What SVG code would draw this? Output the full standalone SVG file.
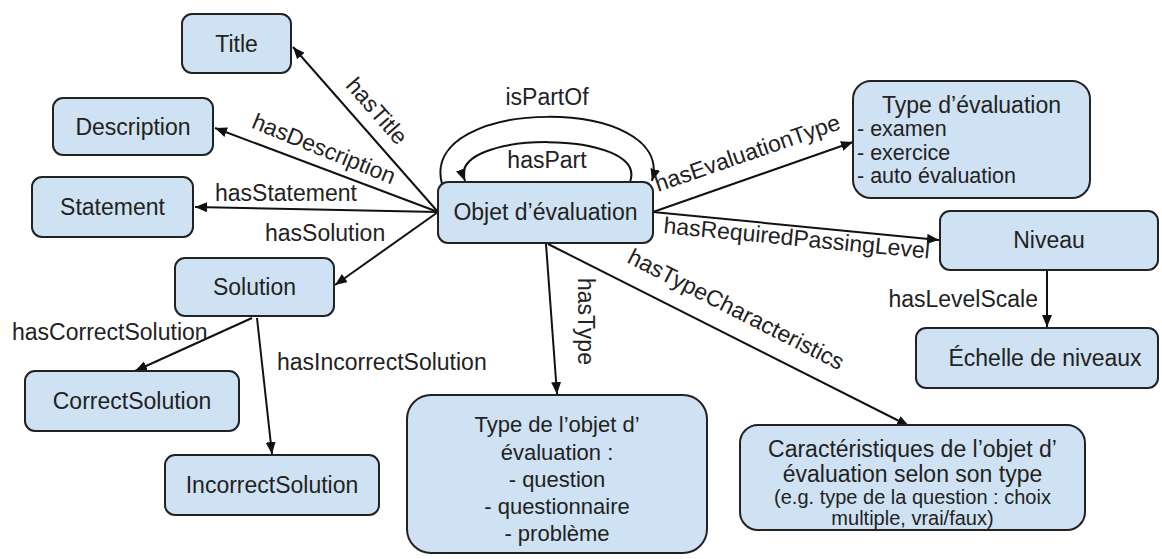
<svg xmlns="http://www.w3.org/2000/svg" width="1162" height="559" viewBox="0 0 1162 559">
<defs>
<marker id="arr" viewBox="0 0 12 10" refX="12" refY="5" markerWidth="12" markerHeight="10" markerUnits="userSpaceOnUse" orient="auto">
<path d="M0,0 L12,5 L0,10 z" fill="#111"/>
</marker>
<style>
.box{fill:#cfe2f3;stroke:#222;stroke-width:2}
text{font-family:"Liberation Sans",Arial,sans-serif;fill:#222}
.t{font-size:23px;text-anchor:middle}
.l{font-size:23px}
.s{font-size:21.5px}
.m{font-size:22px;text-anchor:middle}
.n{font-size:20px;text-anchor:middle}
.e{stroke:#111;stroke-width:2;fill:none;marker-end:url(#arr)}
</style>
</defs>
<rect width="1162" height="559" fill="#fff"/>
<g id="connectors">
<path class="e" d="M438,212 L293,47"/>
<path class="e" d="M438,212 L215,128"/>
<path class="e" d="M438,212 L195,207"/>
<path class="e" d="M438,212 L335,285"/>
<path class="e" d="M252,318 L135,371"/>
<path class="e" d="M257,318 L272,454"/>
<path class="e" d="M546,244 L557,394"/>
<path class="e" d="M548,244 L909,426"/>
<path class="e" d="M653,212 L853,142"/>
<path class="e" d="M653,212 L939,240"/>
<path class="e" d="M1047,270 L1047,327"/>
<path class="e" d="M442,184 C418,95 677,95 652,181"/>
<path class="e" d="M630,182 C650,129 445,129 465,181"/>
<text class="l" text-anchor="middle" transform="translate(371,116) rotate(49)">hasTitle</text>
<text class="l" text-anchor="middle" transform="translate(321,156) rotate(22)">hasDescription</text>
<text class="l" x="215" y="201">hasStatement</text>
<text class="l" x="265" y="241">hasSolution</text>
<text class="l" x="12" y="340">hasCorrectSolution</text>
<text class="l" x="277" y="370">hasIncorrectSolution</text>
<text class="l" transform="translate(578,278) rotate(90)">hasType</text>
<text class="l" transform="translate(626,262) rotate(27)">hasTypeCharacteristics</text>
<text class="l" transform="translate(658,192) rotate(-19)">hasEvaluationType</text>
<text class="l" transform="translate(663,233) rotate(5.5)">hasRequiredPassingLevel</text>
<text class="l" x="1038" y="307" text-anchor="end">hasLevelScale</text>
<text class="l" x="547" y="105" text-anchor="middle">isPartOf</text>
<text class="l" x="547" y="168" text-anchor="middle">hasPart</text>
</g>
<g id="title"><rect class="box" x="182" y="14" width="109" height="59" rx="10"/><text class="t" x="236.5" y="52">Title</text></g>
<g id="description"><rect class="box" x="53" y="98" width="160" height="57" rx="10"/><text class="t" x="133" y="135">Description</text></g>
<g id="statement"><rect class="box" x="32" y="177" width="161" height="60" rx="10"/><text class="t" x="112.5" y="215">Statement</text></g>
<g id="solution"><rect class="box" x="175" y="258" width="159" height="58" rx="10"/><text class="t" x="254.5" y="295">Solution</text></g>
<g id="correct-solution"><rect class="box" x="25" y="371" width="214" height="60" rx="10"/><text class="t" x="132" y="409">CorrectSolution</text></g>
<g id="incorrect-solution"><rect class="box" x="165" y="455" width="214" height="60" rx="10"/><text class="t" x="272" y="493">IncorrectSolution</text></g>
<g id="objet"><rect class="box" x="438" y="182" width="215" height="61" rx="10"/><text class="t" x="545.5" y="220">Objet d’évaluation</text></g>
<g id="type-evaluation"><rect class="box" x="853" y="81" width="237" height="117" rx="18"/>
<text class="t" x="971.5" y="113">Type d’évaluation</text>
<text class="s" x="857" y="136">- examen</text>
<text class="s" x="857" y="160">- exercice</text>
<text class="s" x="857" y="183">- auto évaluation</text></g>
<g id="niveau"><rect class="box" x="940" y="211" width="218" height="59" rx="10"/><text class="t" x="1049" y="248">Niveau</text></g>
<g id="echelle"><rect class="box" x="916" y="328" width="242" height="60" rx="10"/><text class="t" x="1045" y="366">Échelle de niveaux</text></g>
<g id="type-objet"><rect class="box" x="407" y="395" width="300" height="158" rx="24"/>
<text class="m" x="557" y="432">Type de l’objet d’</text>
<text class="m" x="557" y="460">évaluation :</text>
<text class="m" x="557" y="487">- question</text>
<text class="m" x="557" y="514">- questionnaire</text>
<text class="m" x="557" y="541">- problème</text></g>
<g id="caracteristiques"><rect class="box" x="740" y="425" width="345" height="105" rx="18"/>
<text class="t" x="912.5" y="457">Caractéristiques de l’objet d’</text>
<text class="t" x="912.5" y="482">évaluation selon son type</text>
<text class="n" x="912.5" y="504">(e.g. type de la question : choix</text>
<text class="n" x="912.5" y="525">multiple, vrai/faux)</text></g>
</svg>
